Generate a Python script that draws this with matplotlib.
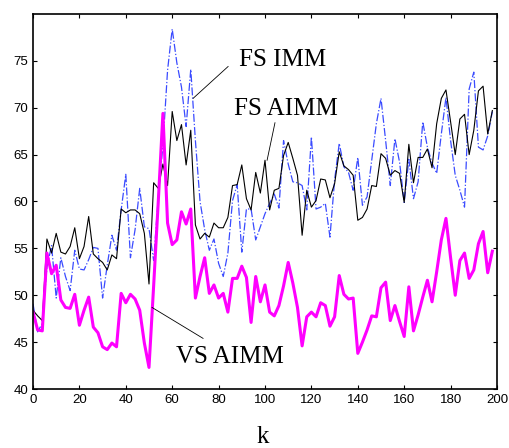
import matplotlib
matplotlib.use("Agg")
import matplotlib.pyplot as plt
import numpy as np

# Data (sampled every 2 steps)
k = np.arange(0, 200, 2)

fs_imm = [
    49.1, 46.1, 47.0, 53.0, 55.3, 49.7, 54.0, 52.0, 50.5, 54.8,
    52.8, 52.7, 53.8, 55.1, 55.0, 49.7, 53.2, 56.4, 54.8, 59.1,
    62.9, 54.0, 57.0, 61.4, 57.3, 57.1, 53.7, 60.5, 66.0, 74.0,
    78.4, 74.8, 72.2, 68.0, 74.1, 66.5, 60.0, 57.0, 54.8, 56.0,
    53.4, 52.0, 54.5, 60.1, 61.8, 54.6, 59.2, 59.2, 55.9, 57.3,
    58.7, 59.8, 60.8, 59.3, 66.5, 64.0, 62.1, 62.0, 61.7, 59.1,
    66.9, 59.2, 59.4, 59.8, 56.2, 62.3, 66.2, 63.7, 63.1, 61.2,
    64.7, 59.6, 60.5, 64.4, 68.3, 71.0, 66.5, 61.7, 66.7, 64.2,
    59.9, 64.5, 60.3, 62.1, 68.5, 65.8, 64.1, 63.0, 67.2, 71.1,
    66.5, 62.8, 61.2, 59.4, 72.0, 73.8, 65.8, 65.5, 67.0, 69.6,
]

fs_aimm = [
    48.4, 47.8, 47.3, 56.0, 54.5, 56.6, 54.6, 54.4, 55.2, 57.2,
    53.9, 55.2, 58.4, 54.4, 53.9, 53.5, 52.7, 54.3, 53.9, 59.2,
    58.8, 59.1, 59.1, 58.7, 56.6, 51.2, 62.0, 61.4, 64.0, 61.7,
    69.6, 66.5, 68.2, 63.9, 67.6, 57.5, 56.0, 56.6, 56.2, 57.7,
    57.2, 57.2, 58.3, 61.7, 61.8, 63.9, 60.3, 59.1, 63.1, 60.9,
    64.4, 59.1, 61.2, 61.4, 64.9, 66.3, 64.6, 62.8, 56.4, 61.2,
    59.4, 60.1, 62.4, 62.3, 60.4, 61.9, 65.3, 63.8, 63.4, 62.8,
    58.0, 58.3, 59.2, 61.7, 61.6, 65.1, 64.6, 62.8, 63.3, 63.0,
    59.9, 66.1, 62.0, 64.7, 64.7, 65.6, 63.6, 68.3, 71.0, 71.9,
    68.5, 65.0, 68.8, 69.3, 65.0, 67.6, 71.8, 72.3, 67.2, 69.7,
]

vs_aimm = [
    48.2, 46.3, 46.2, 54.5, 52.3, 53.2, 49.5, 48.7, 48.6, 50.1,
    46.8, 48.4, 49.8, 46.6, 46.0, 44.5, 44.2, 44.9, 44.5, 50.2,
    49.2, 50.1, 49.6, 48.4, 44.9, 42.3, 51.0, 60.0, 69.4, 57.7,
    55.4, 55.9, 58.9, 57.6, 59.2, 49.7, 52.0, 54.0, 50.2, 51.1,
    49.7, 50.2, 48.2, 51.8, 51.8, 53.1, 51.9, 47.1, 52.0, 49.3,
    51.1, 48.2, 47.8, 48.9, 51.0, 53.5, 51.3, 48.7, 44.6, 47.7,
    48.2, 47.7, 49.2, 48.9, 46.7, 47.7, 52.1, 50.1, 49.6, 49.7,
    43.8, 45.0, 46.3, 47.8, 47.7, 50.8, 51.4, 47.3, 48.9, 47.2,
    45.6, 50.9, 46.2, 47.9, 49.8, 51.6, 49.3, 52.5, 55.9, 58.2,
    54.0, 50.0, 53.7, 54.5, 51.8, 52.7, 55.5, 56.8, 52.4, 54.7,
]

x_ticks = [0, 20, 40, 60, 80, 100, 120, 140, 160, 180, 200]
y_ticks = [40, 45, 50, 55, 60, 65, 70, 75]

fig = plt.figure(figsize=(5.09, 4.48), dpi=100)
ax = fig.add_axes([33 / 509, 1 - 389 / 448, 464 / 509, 375 / 448])

ax.plot(k, fs_imm, color="#3a4bff", linestyle="-.", linewidth=0.9)
ax.plot(k, fs_aimm, color="black", linestyle="-", linewidth=0.8)
ax.plot(k, vs_aimm, color="#ff00ff", linestyle="-", linewidth=2.2)

ax.set_xlim(0, 200)
ax.set_ylim(40, 80)
ax.set_xticks(x_ticks)
ax.set_yticks(y_ticks)
ax.tick_params(direction="in", top=True, right=True, length=3, width=0.8,
               labelsize=9.5, pad=3.5)
for lbl in ax.get_xticklabels() + ax.get_yticklabels():
    lbl.set_family("Liberation Sans")
for sp in ax.spines.values():
    sp.set_linewidth(1.2)

# annotations
serif = dict(family="Liberation Serif", fontsize=18, ha="center", va="baseline")
ax.text(107.5, 74.5, "FS IMM", **serif)
ax.plot([84.1, 69.0], [74.4, 71.0], color="black", linewidth=0.6)
ax.text(109.1, 69.2, "FS AIMM", **serif)
ax.plot([104.3, 100.9], [68.4, 64.4], color="black", linewidth=0.6)
ax.text(84.7, 42.8, "VS AIMM", **serif)
ax.plot([51.3, 73.3], [48.7, 45.4], color="black", linewidth=0.6)

fig.text(262.5 / 509, 1 - 443 / 448, "k", family="Liberation Serif",
         fontsize=18, ha="center", va="baseline")

fig.savefig("out.png", dpi=100)
